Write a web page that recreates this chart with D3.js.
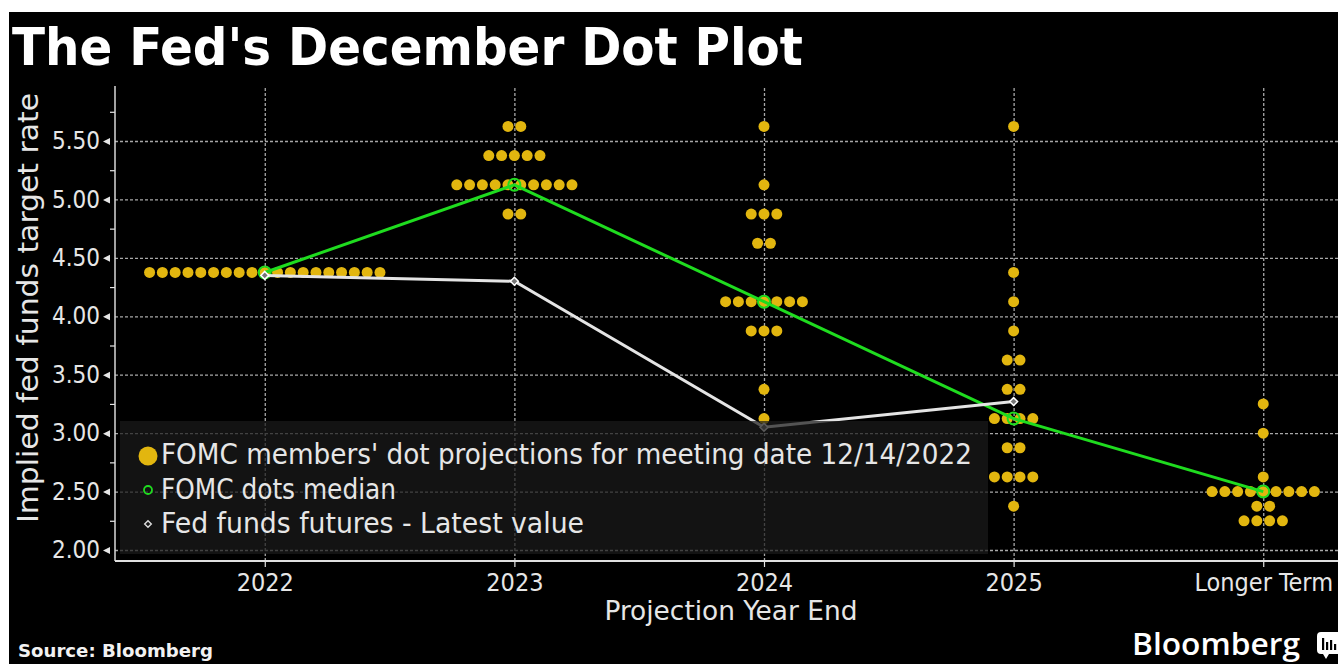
<!DOCTYPE html>
<html>
<head>
<meta charset="utf-8">
<script src="https://cdn.jsdelivr.net/npm/d3@7"></script>
<style>
  body { margin: 0; background: #fff; }
</style>
</head>
<body>
<div id="chart"></div>
<script>
// Data
const categories = ["2022", "2023", "2024", "2025", "Longer Term"];

// dot rows per projection year: [rate, number of participants]
const dots2022 = [[4.375, 19]];
const dots2023 = [[5.625, 2], [5.375, 5], [5.125, 10], [4.875, 2]];
const dots2024 = [[5.625, 1], [5.125, 1], [4.875, 3], [4.625, 2], [4.125, 7], [3.875, 3], [3.375, 1], [3.125, 1]];
const dots2025 = [[5.625, 1], [4.375, 1], [4.125, 1], [3.875, 1], [3.625, 2], [3.375, 2], [3.125, 4], [2.875, 2], [2.625, 4], [2.375, 1]];
const dotsLonger = [[3.25, 1], [3.0, 1], [2.625, 1], [2.5, 9], [2.375, 2], [2.25, 4]];

const medians = [4.375, 5.125, 4.125, 3.125, 2.5];
const futures = [4.35, 4.30, 3.05, 3.27];

const yTicks = [2.0, 2.5, 3.0, 3.5, 4.0, 4.5, 5.0, 5.5];
const yMinorTicks = [2.25, 2.75, 3.25, 3.75, 4.25, 4.75, 5.25, 5.75];

const legendLabels = [
    "FOMC members' dot projections for meeting date 12/14/2022",
    "FOMC dots median",
    "Fed funds futures - Latest value"
];

// Set up dimensions
const dimensions = {
    width: 1338,
    height: 664,
    plotLeft: 115,
    plotRight: 1413,   // the chart runs past the right edge of the picture
    plotTop: 86,
    plotBottom: 561,
}

const font = "'DejaVu Sans Condensed', 'DejaVu Sans', sans-serif";
const textColor = "#e6e6e6";
const dotColor = "#e2b60f";
const medianColor = "#1fdc1f";
const gridColor = "#a8a8a8";

// Scales
const xScale = d3.scalePoint()
    .domain(categories)
    .range([dimensions.plotLeft, dimensions.plotRight])
    .padding(0.6);

const yScale = d3.scaleLinear()
    .domain([2, 5.5])
    .range([550, 141]);

const svg = d3.select("#chart")
    .append("svg")
        .attr("width", dimensions.width)
        .attr("height", dimensions.height)
        .style("display", "block")
        .style("font-family", font);

// black panel with white margin at top and left
svg.append("rect")
    .attr("x", 9)
    .attr("y", 12)
    .attr("width", dimensions.width - 9)
    .attr("height", dimensions.height - 12)
    .attr("fill", "#000");

// Title
svg.append("text")
    .attr("x", 12)
    .attr("y", 65)
    .attr("fill", "#fff")
    .style("font-size", "51px")
    .style("font-weight", 700)
    .attr("textLength", 791)
    .attr("lengthAdjust", "spacingAndGlyphs")
    .text("The Fed's December Dot Plot");

// Y axis gridlines + labels
const yAxis = svg.append("g")
    .attr("transform", `translate(${dimensions.plotLeft},0)`)
    .call(d3.axisLeft(yScale)
        .tickValues(yTicks)
        .tickFormat(d3.format(".2f"))
        .tickSize(-(dimensions.width - dimensions.plotLeft))
        .tickPadding(15));

yAxis.select(".domain").remove();
yAxis.selectAll(".tick line")
    .attr("stroke", gridColor)
    .attr("stroke-width", 1.3)
    .attr("stroke-dasharray", "3,2");
yAxis.selectAll(".tick text")
    .attr("fill", textColor)
    .style("font-size", "24px")
    .style("font-family", font);
yAxis.selectAll(".tick")
    .append("path")
        .attr("d", "M-12,0L-5,-3.5L-5,3.5Z")
        .attr("fill", textColor);

// minor ticks
const yMinor = svg.append("g")
    .attr("transform", `translate(${dimensions.plotLeft},0)`)
    .call(d3.axisLeft(yScale)
        .tickValues(yMinorTicks)
        .tickFormat("")
        .tickSize(5));
yMinor.select(".domain").remove();
yMinor.selectAll(".tick line")
    .attr("stroke", textColor)
    .attr("stroke-width", 1.2);

// X gridlines
const xGrid = svg.append("g")
    .attr("transform", `translate(0,${dimensions.plotBottom})`)
    .call(d3.axisBottom(xScale)
        .tickSize(-(dimensions.plotBottom - dimensions.plotTop))
        .tickFormat(""));
xGrid.select(".domain").remove();
xGrid.selectAll(".tick line")
    .attr("stroke", gridColor)
    .attr("stroke-width", 1.3)
    .attr("stroke-dasharray", "3,2");

// X axis ticks + labels
const xAxis = svg.append("g")
    .attr("transform", `translate(0,${dimensions.plotBottom})`)
    .call(d3.axisBottom(xScale)
        .tickSize(6)
        .tickPadding(6));
xAxis.select(".domain").remove();
xAxis.selectAll(".tick line")
    .attr("stroke", textColor)
    .attr("stroke-width", 1.2);
xAxis.selectAll(".tick text")
    .attr("fill", textColor)
    .style("font-size", "25px")
    .style("font-family", font);

// axis lines
svg.append("line")
    .attr("x1", dimensions.plotLeft)
    .attr("x2", dimensions.plotLeft)
    .attr("y1", dimensions.plotTop)
    .attr("y2", dimensions.plotBottom)
    .attr("stroke", "#d8d8d8")
    .attr("stroke-width", 1.5);
svg.append("line")
    .attr("x1", dimensions.plotLeft)
    .attr("x2", dimensions.width)
    .attr("y1", dimensions.plotBottom)
    .attr("y2", dimensions.plotBottom)
    .attr("stroke", "#e0e0e0")
    .attr("stroke-width", 2);

// Axis titles
svg.append("text")
    .attr("transform", `translate(38,${(93 + 523) / 2}) rotate(-90)`)
    .attr("text-anchor", "middle")
    .attr("fill", textColor)
    .style("font-size", "28px")
    .attr("textLength", 430)
    .attr("lengthAdjust", "spacingAndGlyphs")
    .text("Implied fed funds target rate");

svg.append("text")
    .attr("x", 731)
    .attr("y", 620)
    .attr("text-anchor", "middle")
    .attr("fill", textColor)
    .style("font-size", "26px")
    .attr("textLength", 253)
    .attr("lengthAdjust", "spacingAndGlyphs")
    .text("Projection Year End");

// Dots
const dotSpacing = 12.8;
const dotRows = [dots2022, dots2023, dots2024, dots2025, dotsLonger];
const dotData = [];
dotRows.forEach((rows, i) => {
    rows.forEach(([rate, count]) => {
        d3.range(count).forEach(j => {
            dotData.push({
                cat: categories[i],
                rate: rate,
                offset: (j - (count - 1) / 2) * dotSpacing
            });
        });
    });
});

svg.append("g")
    .selectAll("circle")
    .data(dotData)
    .join("circle")
        .attr("cx", d => xScale(d.cat) + d.offset)
        .attr("cy", d => yScale(d.rate))
        .attr("r", 5.5)
        .attr("fill", dotColor);

// Median line
const lineGen = d3.line()
    .x(d => xScale(d.cat))
    .y(d => yScale(d.value));

const medianData = medians.map((v, i) => ({cat: categories[i], value: v}));
svg.append("path")
    .datum(medianData)
    .attr("d", lineGen)
    .attr("fill", "none")
    .attr("stroke", medianColor)
    .attr("stroke-width", 3);
svg.append("g")
    .selectAll("circle")
    .data(medianData)
    .join("circle")
        .attr("cx", d => xScale(d.cat))
        .attr("cy", d => yScale(d.value))
        .attr("r", 6)
        .attr("fill", "none")
        .attr("stroke", medianColor)
        .attr("stroke-width", 2);

// Futures line
const futuresData = futures.map((v, i) => ({cat: categories[i], value: v}));
svg.append("path")
    .datum(futuresData)
    .attr("d", lineGen)
    .attr("fill", "none")
    .attr("stroke", "#e4e4e4")
    .attr("stroke-width", 3);
const diamond = d3.symbol().type(d3.symbolDiamond2).size(40);
svg.append("g")
    .selectAll("path")
    .data(futuresData)
    .join("path")
        .attr("transform", d => `translate(${xScale(d.cat)},${yScale(d.value)})`)
        .attr("d", diamond)
        .attr("fill", "#777")
        .attr("stroke", "#fff")
        .attr("stroke-width", 1.5);

// Legend
const legend = svg.append("g");
legend.append("rect")
    .attr("x", 120)
    .attr("y", 421)
    .attr("width", 868)
    .attr("height", 133)
    .attr("fill", "#1a1a1a")
    .attr("opacity", 0.72);

const legendY = [464, 499, 533];
const legendWidths = [811, 235, 423];
legend.selectAll("text")
    .data(legendLabels)
    .join("text")
        .attr("x", 161)
        .attr("y", (d, i) => legendY[i])
        .attr("fill", textColor)
        .style("font-size", "28px")
        .attr("textLength", (d, i) => legendWidths[i])
        .attr("lengthAdjust", "spacingAndGlyphs")
        .text(d => d);

legend.append("circle")
    .attr("cx", 148)
    .attr("cy", 456)
    .attr("r", 9.5)
    .attr("fill", dotColor);
legend.append("circle")
    .attr("cx", 148)
    .attr("cy", 490)
    .attr("r", 4)
    .attr("fill", "none")
    .attr("stroke", medianColor)
    .attr("stroke-width", 1.8);
legend.append("path")
    .attr("transform", "translate(148,524)")
    .attr("d", d3.symbol().type(d3.symbolDiamond2).size(28))
    .attr("fill", "none")
    .attr("stroke", "#ddd")
    .attr("stroke-width", 1.4);

// Footer
svg.append("text")
    .attr("x", 18)
    .attr("y", 657)
    .attr("fill", "#f2f2f2")
    .style("font-family", "'DejaVu Sans', sans-serif")
    .style("font-size", "17px")
    .style("font-weight", 700)
    .attr("textLength", 195)
    .attr("lengthAdjust", "spacingAndGlyphs")
    .text("Source: Bloomberg");

svg.append("text")
    .attr("x", 1132)
    .attr("y", 655)
    .attr("fill", "#fff")
    .style("font-family", "'Open Sans', sans-serif")
    .style("font-size", "30px")
    .style("font-weight", 600)
    .attr("textLength", 168)
    .attr("lengthAdjust", "spacingAndGlyphs")
    .text("Bloomberg");

// Bloomberg chart icon (cut off at right edge)
const icon = svg.append("g").attr("transform", "translate(1317,632)");
icon.append("path")
    .attr("d", "M4,0H30V22H12L9,27L6,22H4Q0,22 0,18V4Q0,0 4,0Z")
    .attr("fill", "#fff");
[[5, 12], [9, 8], [13, 10], [17, 6]].forEach(([bx, bh]) => {
    icon.append("rect")
        .attr("x", bx)
        .attr("y", 18 - bh)
        .attr("width", 2.2)
        .attr("height", bh)
        .attr("fill", "#000");
});
</script>
</body>
</html>
